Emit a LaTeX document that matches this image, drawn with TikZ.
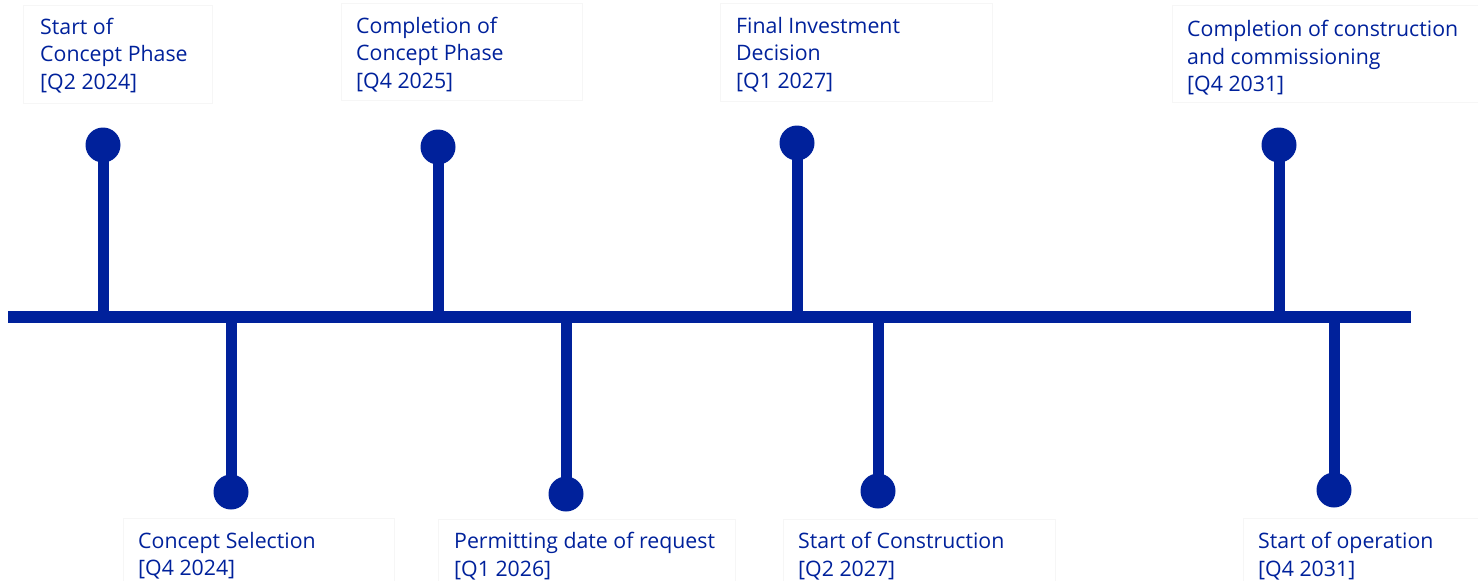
\documentclass[tikz,border=0pt]{standalone}
\usepackage{fontspec}
\setmainfont{Open Sans}
\definecolor{navy}{RGB}{0,33,155}
\definecolor{frame}{RGB}{246,246,246}
\begin{document}
\begin{tikzpicture}[x=1pt,y=-1pt,
  axisline/.style={draw=navy,line width=12pt},
  stem/.style={draw=navy,line width=11pt},
  dot/.style={circle,fill=navy,draw=none,minimum size=35pt,inner sep=0pt},
  label/.style={anchor=north west,inner sep=0pt,align=left,text=navy,
    font=\fontsize{21.3}{27.5}\selectfont},
  card/.style={draw=frame,line width=1pt}]
\useasboundingbox (0,0) rectangle (1478,581);

% faint frames around the milestone texts
\draw[card] (23,5) rectangle (212,103);
\draw[card] (341,3) rectangle (582,100);
\draw[card] (720,3) rectangle (992,101);
\draw[card] (1172,5) rectangle (1479,102);
\draw[card] (123,583) |- (394,518) -- (394,583);
\draw[card] (438,583) |- (735,519) -- (735,583);
\draw[card] (783,583) |- (1055,519) -- (1055,583);
\draw[card] (1243,583) |- (1479,518);

% time axis
\coordinate (L) at (8,317);
\coordinate (R) at (1411,317);

% milestone dots
\node[dot] (d1) at (103,145) {};
\node[dot] (d2) at (438,147) {};
\node[dot] (d3) at (797,143) {};
\node[dot] (d4) at (1279,145) {};
\node[dot] (e1) at (231,492) {};
\node[dot] (e2) at (566,494) {};
\node[dot] (e3) at (878,491) {};
\node[dot] (e4) at (1334,490) {};

% stems from each dot to the axis, then the axis itself
\foreach \n in {d1,d2,d3,d4,e1,e2,e3,e4}
  \draw[stem] (\n.center) -- (\n.center |- L);
\draw[axisline] (L) -- (R);

% milestone texts
\node[label] (t1) at (40,18) {Start of\\Concept Phase\\{[Q2 2024]}};
\node[label] (t2) at (356,17) {Completion of\\Concept Phase\\{[Q4 2025]}};
\node[label] (t3) at (736,17) {Final Investment\\Decision\\{[Q1 2027]}};
\node[label] (t4) at (1187,20) {Completion of construction\\and commissioning\\{[Q4 2031]}};
\node[label] (b1) at (138,532) {Concept Selection\\{[Q4 2024]}};
\node[label] (b2) at (454,532) {Permitting date of request\\{[Q1 2026]}};
\node[label] (b3) at (798,532) {Start of Construction\\{[Q2 2027]}};
\node[label] (b4) at (1258,532) {Start of operation\\{[Q4 2031]}};
\end{tikzpicture}
\end{document}
